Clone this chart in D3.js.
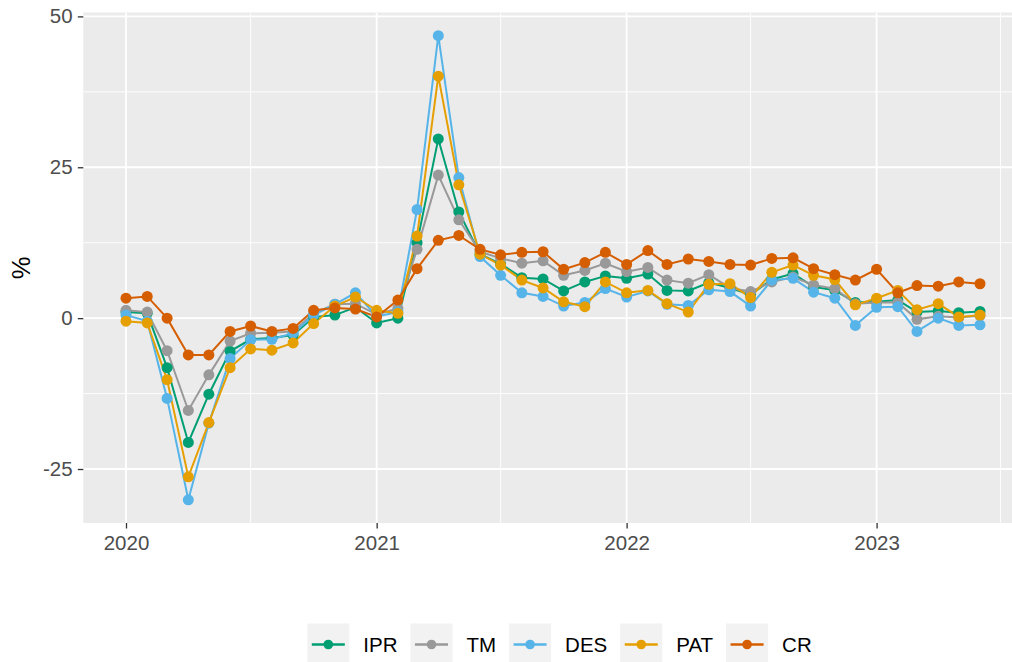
<!DOCTYPE html>
<html>
<head>
<meta charset="utf-8">
<script src="https://cdn.jsdelivr.net/npm/d3@7"></script>
<style>
  body { margin: 0; background: #fff; }
  svg { display: block; font-family: "Liberation Sans", Arial, sans-serif; }
</style>
</head>
<body>
<svg id="chart" width="1012" height="662"></svg>
<script>
// monthly observations, Jan 2020 - Jun 2023
const months = [
  '2020-01','2020-02','2020-03','2020-04','2020-05','2020-06','2020-07','2020-08','2020-09','2020-10','2020-11','2020-12',
  '2021-01','2021-02','2021-03','2021-04','2021-05','2021-06','2021-07','2021-08','2021-09','2021-10','2021-11','2021-12',
  '2022-01','2022-02','2022-03','2022-04','2022-05','2022-06','2022-07','2022-08','2022-09','2022-10','2022-11','2022-12',
  '2023-01','2023-02','2023-03','2023-04','2023-05','2023-06'
];

const IPR = [1.0, 0.8, -8.2, -20.6, -12.6, -5.5, -3.5, -3.3, -2.8, 0.2, 0.5, 1.8,
  -0.8, 0.0, 12.5, 29.7, 17.6, 10.6, 9.0, 6.7, 6.5, 4.5, 6.0, 7.0,
  6.6, 7.3, 4.6, 4.5, 5.9, 5.0, 3.9, 6.4, 7.4, 5.2, 4.6, 2.6,
  2.7, 3.0, 1.0, 1.2, 0.9, 1.1];
const TM = [1.3, 1.0, -5.4, -15.3, -9.4, -3.8, -2.5, -2.4, -2.2, 0.8, 2.3, 2.4,
  0.6, 1.6, 11.4, 23.7, 16.3, 11.0, 9.9, 9.1, 9.5, 7.1, 7.9, 9.1,
  7.7, 8.4, 6.3, 5.8, 7.2, 5.0, 4.4, 6.0, 6.8, 5.5, 4.9, 2.4,
  2.6, 2.6, -0.2, 0.3, 0.1, 0.4];
const DES = [0.5, -0.5, -13.3, -30.1, -17.4, -6.7, -3.6, -3.5, -2.5, 0.5, 2.3, 4.2,
  0.3, 1.0, 18.0, 46.8, 23.3, 10.2, 7.1, 4.2, 3.6, 2.0, 2.6, 4.9,
  3.5, 4.5, 2.3, 2.1, 4.7, 4.4, 2.0, 6.3, 6.6, 4.3, 3.3, -1.2,
  1.8, 1.9, -2.2, 0.0, -1.2, -1.1];
const PAT = [-0.5, -0.8, -10.2, -26.3, -17.3, -8.2, -5.1, -5.3, -4.1, -0.9, 2.0, 3.5,
  1.3, 0.8, 13.6, 40.1, 22.1, 10.6, 8.8, 6.3, 5.0, 2.7, 1.9, 6.0,
  4.2, 4.6, 2.4, 1.0, 5.6, 5.7, 3.4, 7.6, 8.8, 7.1, 6.4, 2.2,
  3.3, 4.6, 1.4, 2.4, 0.2, 0.5];
const CR = [3.3, 3.6, 0.0, -6.1, -6.1, -2.2, -1.3, -2.2, -1.7, 1.3, 1.7, 1.5,
  0.2, 3.0, 8.2, 12.9, 13.7, 11.4, 10.5, 10.9, 11.0, 8.1, 9.2, 10.9,
  8.9, 11.2, 8.9, 9.8, 9.4, 8.9, 8.8, 9.9, 10.0, 8.2, 7.2, 6.3,
  8.1, 4.2, 5.4, 5.3, 6.0, 5.7];

const seriesNames = ['IPR', 'TM', 'DES', 'PAT', 'CR'];
const yTicks = [-25, 0, 25, 50];
const yMinorTicks = [-12.5, 12.5, 37.5];
const xTickLabels = ['2020', '2021', '2022', '2023'];
const xMinorTicks = ['2020-07', '2021-07', '2022-07', '2023-07'];

const colors = {IPR: '#009E73', TM: '#999999', DES: '#56B4E9', PAT: '#E69F00', CR: '#D55E00'};
const seriesData = {IPR, TM, DES, PAT, CR};

const parseMonth = d3.utcParse('%Y-%m');
const dates = months.map(parseMonth);
const series = seriesNames.map(name => ({
  name,
  values: seriesData[name].map((v, i) => ({date: dates[i], value: v}))
}));

const panel = {left: 83.3, right: 1022.7, top: 12.5, bottom: 523};

// ggplot style 5% expansion
const expand = ([a, b]) => { const p = (b - a) * 0.05; return [a - p, b + p]; };
const xExt = d3.extent(dates).map(d => +d);
const x = d3.scaleUtc().domain(expand(xExt).map(t => new Date(t))).range([panel.left, panel.right]);
const allVals = series.flatMap(s => s.values.map(d => d.value));
const y = d3.scaleLinear().domain(expand(d3.extent(allVals))).range([panel.bottom, panel.top]);

const svg = d3.select('#chart');

svg.append('clipPath').attr('id', 'clip')
  .append('rect').attr('x', panel.left).attr('y', panel.top)
  .attr('width', panel.right - panel.left).attr('height', panel.bottom - panel.top);

svg.append('rect')
  .attr('x', panel.left).attr('y', panel.top)
  .attr('width', panel.right - panel.left).attr('height', panel.bottom - panel.top)
  .attr('fill', '#EBEBEB');

const grid = svg.append('g').attr('clip-path', 'url(#clip)');
// minor grid
grid.selectAll('.ymin').data(yMinorTicks).enter().append('line')
  .attr('x1', panel.left).attr('x2', panel.right)
  .attr('y1', d => y(d)).attr('y2', d => y(d))
  .attr('stroke', '#fff').attr('stroke-width', 0.9);
grid.selectAll('.xmin').data(xMinorTicks.map(parseMonth)).enter().append('line')
  .attr('y1', panel.top).attr('y2', panel.bottom)
  .attr('x1', d => x(d)).attr('x2', d => x(d))
  .attr('stroke', '#fff').attr('stroke-width', 0.9);
// major grid
grid.selectAll('.ymaj').data(yTicks).enter().append('line')
  .attr('x1', panel.left).attr('x2', panel.right)
  .attr('y1', d => y(d)).attr('y2', d => y(d))
  .attr('stroke', '#fff').attr('stroke-width', 1.8);
const yearDates = xTickLabels.map(d3.utcParse('%Y'));
grid.selectAll('.xmaj').data(yearDates).enter().append('line')
  .attr('y1', panel.top).attr('y2', panel.bottom)
  .attr('x1', d => x(d)).attr('x2', d => x(d))
  .attr('stroke', '#fff').attr('stroke-width', 1.8);

// lines, then points (layer order like ggplot)
const line = d3.line().x(d => x(d.date)).y(d => y(d.value));
const plot = svg.append('g').attr('clip-path', 'url(#clip)');
plot.selectAll('path.series').data(series).enter().append('path')
  .attr('class', 'series')
  .attr('d', s => line(s.values))
  .attr('fill', 'none')
  .attr('stroke', s => colors[s.name])
  .attr('stroke-width', 2);
series.forEach(s => {
  plot.append('g').selectAll('circle').data(s.values).enter().append('circle')
    .attr('cx', d => x(d.date)).attr('cy', d => y(d.value))
    .attr('r', 5.5).attr('fill', colors[s.name]);
});

// axes
const xAxis = d3.axisBottom(x).tickValues(yearDates).tickFormat(d3.utcFormat('%Y'))
  .tickSize(5.5).tickPadding(6.5);
const gx = svg.append('g').attr('transform', `translate(0,${panel.bottom})`).call(xAxis);
const yAxis = d3.axisLeft(y).tickValues(yTicks).tickFormat(d3.format('d'))
  .tickSize(5.5).tickPadding(5.2);
const gy = svg.append('g').attr('transform', `translate(${panel.left},0)`).call(yAxis);
[gx, gy].forEach(g => {
  g.select('.domain').remove();
  g.selectAll('.tick line').attr('stroke', '#333333').attr('stroke-width', 1.3);
  g.selectAll('.tick text').attr('fill', '#4D4D4D').style('font-size', '20.5px')
    .style('font-family', '"Liberation Sans", Arial, sans-serif');
});
gy.selectAll('.tick text').text(d => d < 0 ? '-' + Math.abs(d) : d);

svg.append('text')
  .attr('transform', `translate(30.3,${(panel.top + panel.bottom) / 2}) rotate(-90)`)
  .attr('text-anchor', 'middle')
  .style('font-size', '25.6px').attr('fill', '#000')
  .text('%');

// legend
const legY = 644.5;
const keySize = 42;
let lx = 307.3;
seriesNames.forEach(name => {
  const g = svg.append('g').attr('transform', `translate(${lx},${legY - keySize / 2})`);
  g.append('rect').attr('width', keySize).attr('height', keySize).attr('fill', '#F2F2F2');
  g.append('line').attr('x1', 4.5).attr('x2', keySize - 4.5)
    .attr('y1', keySize / 2).attr('y2', keySize / 2)
    .attr('stroke', colors[name]).attr('stroke-width', 2.4);
  g.append('circle').attr('cx', keySize / 2).attr('cy', keySize / 2).attr('r', 4.8).attr('fill', colors[name]);
  const t = g.append('text').attr('x', keySize + 14).attr('y', keySize / 2).attr('dy', '0.35em')
    .style('font-size', '20.5px').attr('fill', '#000').text(name);
  lx += keySize + 14 + t.node().getComputedTextLength() + 13;
});
</script>
</body>
</html>
